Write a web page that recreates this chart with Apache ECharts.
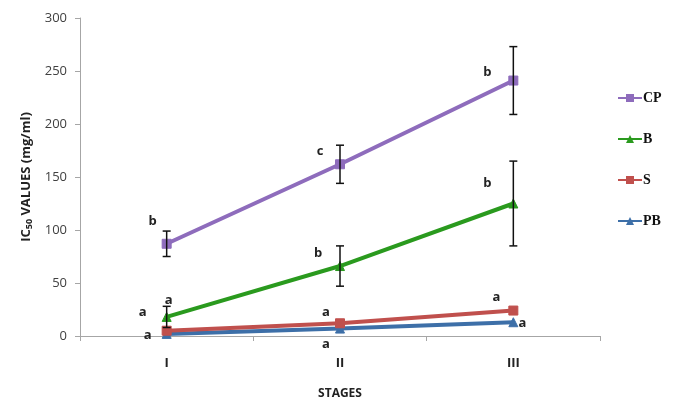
<!DOCTYPE html>
<html>
<head>
<meta charset="utf-8">
<script src="https://cdn.jsdelivr.net/npm/echarts@6/dist/echarts.min.js"></script>
<style>
  html, body { margin: 0; padding: 0; background: #fff; }
  #chart { width: 673px; height: 404px; }
</style>
</head>
<body>
<div id="chart"></div>
<script>
// Stages of development
const stages = ['I', 'II', 'III'];

// IC50 means (mg/ml) per extract
const cpValues = [87, 162, 241];
const bValues = [18, 66, 125];
const sValues = [5, 12, 24];
const pbValues = [2, 7, 13];

// Standard deviations shown as error bars
const cpErr = [12, 18, 32];
const bErr = [10, 19, 40];

// Significance letters per point
const cpLetters = ['b', 'c', 'b'];
const bLetters = ['a', 'b', 'b'];
const sLetters = ['a', 'a', 'a'];
const pbLetters = ['a', 'a', 'a'];

const yTicks = [0, 50, 100, 150, 200, 250, 300];

// Letter placement relative to each marker
const cpOffsets = [[-14, -22], [-20, -13], [-26, -8]];
const bOffsets = [[2, -17], [-22, -13], [-26, -20]];
const sOffsets = [[-24, -18], [-14, -11], [-17, -13]];
const pbOffsets = [[-19, 1], [-14, 16], [9, 1]];

const chart = echarts.init(document.getElementById('chart'));

function withLetters(values, letters, offsets) {
  return values.map((v, i) => ({
    value: v,
    label: {
      show: true,
      formatter: letters[i],
      position: 'inside',
      offset: offsets[i],
      color: '#222',
      fontSize: 13,
      fontWeight: 'bold',
      fontFamily: 'Open Sans, sans-serif'
    }
  }));
}

function errorData(values, errs) {
  return values.map((v, i) => [i, v - errs[i], v + errs[i]]);
}

function renderError(params, api) {
  const x = api.value(0);
  const lo = api.coord([x, api.value(1)]);
  const hi = api.coord([x, api.value(2)]);
  const cap = 4;
  const style = { stroke: '#111', lineWidth: 1.5 };
  return {
    type: 'group',
    children: [
      { type: 'line', shape: { x1: lo[0], y1: lo[1], x2: hi[0], y2: hi[1] }, style },
      { type: 'line', shape: { x1: hi[0] - cap, y1: hi[1], x2: hi[0] + cap, y2: hi[1] }, style },
      { type: 'line', shape: { x1: lo[0] - cap, y1: lo[1], x2: lo[0] + cap, y2: lo[1] }, style }
    ]
  };
}

function lineSeries(name, values, letters, offsets, color, symbol, z) {
  return {
    name,
    type: 'line',
    data: withLetters(values, letters, offsets),
    symbol,
    symbolSize: 9,
    z,
    lineStyle: { color, width: 4 },
    itemStyle: { color, borderColor: color },
    emphasis: { disabled: true },
    animation: false
  };
}

chart.setOption({
  animation: false,
  grid: { left: 80, right: 73, top: 18, bottom: 68, outerBoundsMode: 'none', containLabel: false },
  legend: {
    orient: 'vertical',
    left: 612,
    top: 86,
    itemGap: 27,
    itemWidth: 24,
    itemHeight: 10,
    data: ['CP', 'B', 'S', 'PB'],
    textStyle: {
      fontFamily: 'Liberation Serif, serif',
      fontWeight: 'bold',
      fontSize: 14,
      color: '#111',
      padding: [0, 0, 0, -4]
    }
  },
  xAxis: {
    type: 'category',
    data: stages,
    boundaryGap: true,
    name: 'STAGES',
    nameLocation: 'middle',
    nameGap: 52,
    nameTextStyle: { fontFamily: 'Open Sans, sans-serif', fontWeight: 'bold', fontSize: 12, color: '#222' },
    axisLine: { lineStyle: { color: '#a6a6a6', width: 1 } },
    axisTick: { show: true, length: 5, lineStyle: { color: '#a6a6a6' } },
    axisLabel: { margin: 21, fontFamily: 'Open Sans, sans-serif', fontWeight: 'bold', fontSize: 13, color: '#222' },
    splitLine: { show: false }
  },
  yAxis: {
    type: 'value',
    min: yTicks[0],
    max: yTicks[yTicks.length - 1],
    interval: yTicks[1] - yTicks[0],
    name: '{a|IC}{s|50}{a| VALUES (mg/ml)}',
    nameLocation: 'middle',
    nameGap: 40,
    nameTextStyle: {
      rich: {
        a: { fontFamily: 'Open Sans, sans-serif', fontWeight: 'bold', fontSize: 13, color: '#222' },
        s: { fontFamily: 'Open Sans, sans-serif', fontWeight: 'bold', fontSize: 9, color: '#222', verticalAlign: 'bottom', padding: [7, 0, 0, 0] }
      }
    },
    axisLine: { show: true, lineStyle: { color: '#a6a6a6', width: 1 } },
    axisTick: { show: true, length: 5, lineStyle: { color: '#a6a6a6' } },
    axisLabel: { margin: 13, fontFamily: 'Open Sans, sans-serif', fontSize: 13, color: '#404040' },
    splitLine: { show: false }
  },
  series: [
    lineSeries('CP', cpValues, cpLetters, cpOffsets, '#8e6cbc', 'rect', 4),
    lineSeries('B', bValues, bLetters, bOffsets, '#2a9a1e', 'triangle', 4),
    lineSeries('S', sValues, sLetters, sOffsets, '#c0504d', 'rect', 3),
    lineSeries('PB', pbValues, pbLetters, pbOffsets, '#3d6fa8', 'triangle', 2),
    {
      type: 'custom',
      renderItem: renderError,
      data: errorData(cpValues, cpErr),
      encode: { x: 0, y: [1, 2] },
      z: 5,
      silent: true
    },
    {
      type: 'custom',
      renderItem: renderError,
      data: errorData(bValues, bErr),
      encode: { x: 0, y: [1, 2] },
      z: 5,
      silent: true
    }
  ]
});
</script>
</body>
</html>
